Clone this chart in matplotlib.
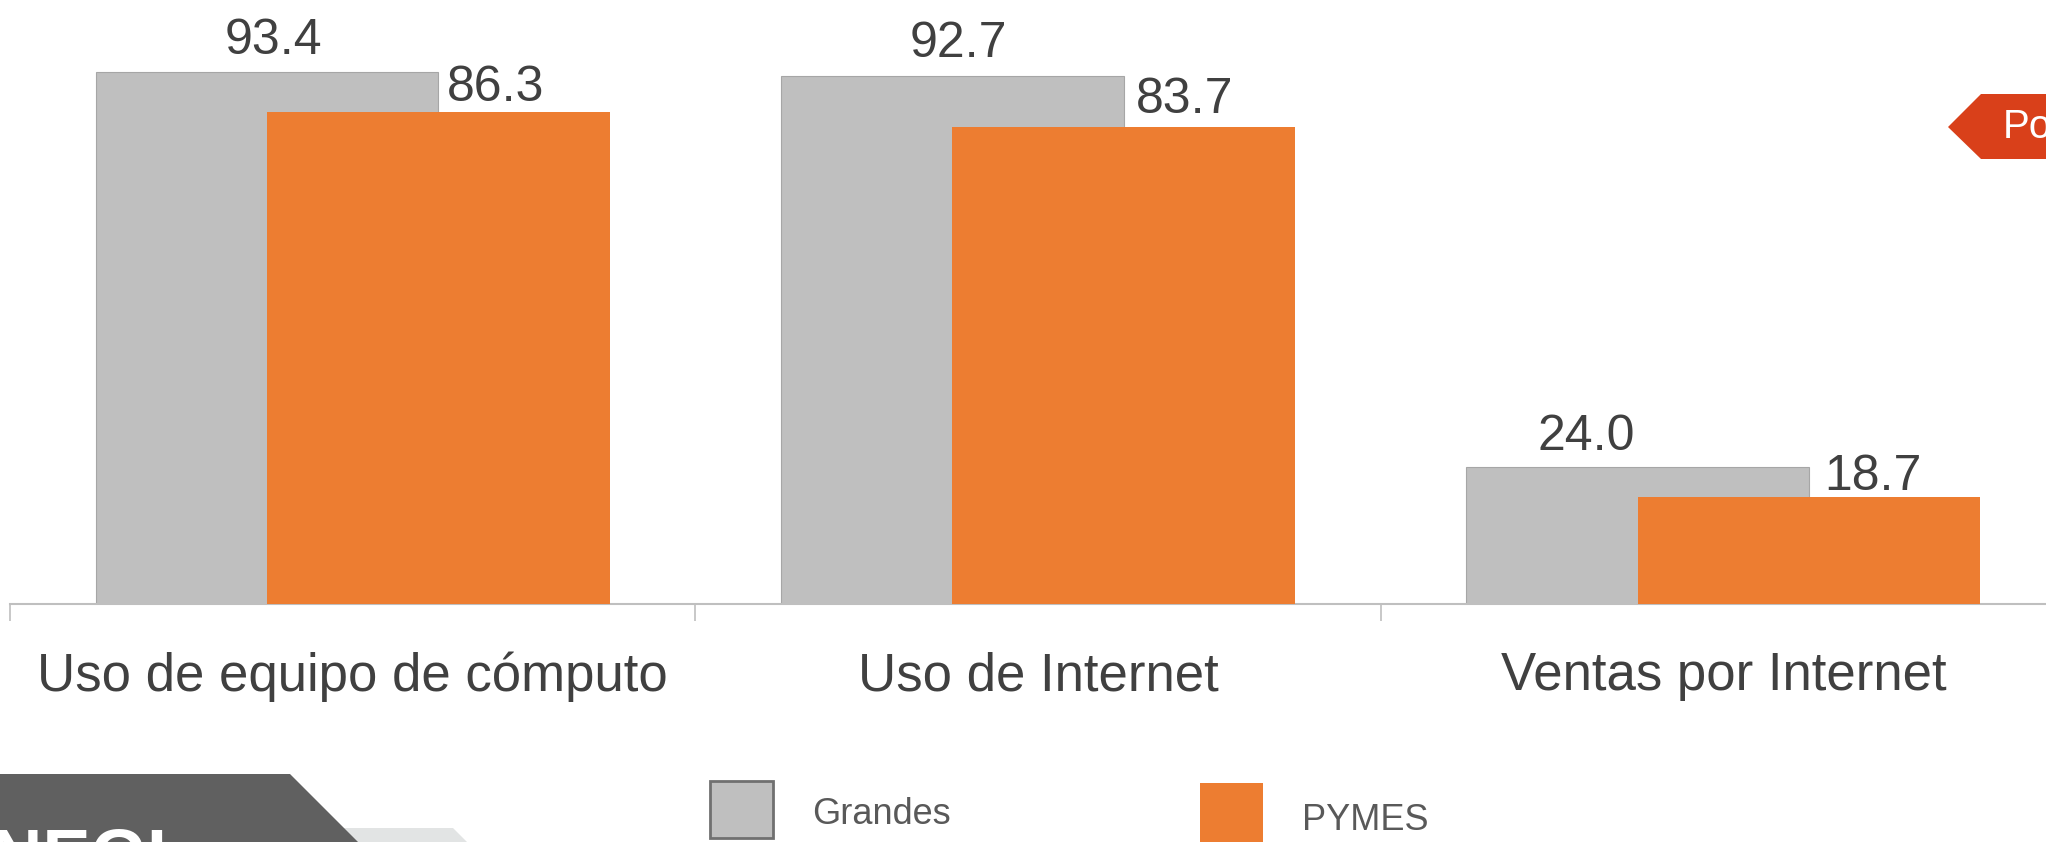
import matplotlib
matplotlib.use("Agg")
import matplotlib.pyplot as plt
from matplotlib.patches import Polygon

categorias = ["Uso de equipo de cómputo", "Uso de Internet", "Ventas por Internet"]
grandes = [93.4, 92.7, 24.0]
pymes = [86.3, 83.7, 18.7]
series = ["Grandes", "PYMES"]

gris = "#BFBFBF"
naranja = "#ED7D31"
texto = "#404040"

W, H = 2046, 842
plt.rcParams["font.family"] = ["Liberation Sans", "DejaVu Sans"]

fig = plt.figure(figsize=(W / 100, H / 100), dpi=100)
# axes run past the right edge of the picture (third category is cut)
ax = fig.add_axes([10 / W, 1 - 604 / H, (2066 - 10) / W, 604 / H])
ax.set_xlim(-0.5, 2.5)
ax.set_ylim(0, 106)

x = list(range(len(categorias)))
bg = ax.bar([i - 0.125 for i in x], grandes, width=0.5, color=gris,
            edgecolor="#A6A6A6", linewidth=0.8, zorder=2)
bp = ax.bar([i + 0.125 for i in x], pymes, width=0.5, color=naranja,
            edgecolor="none", zorder=3)

# value labels (offsets in pixels: dx, gap above bar to baseline)
off_g = [(6, 18), (6, 19), (-51, 17)]
off_p = [(57, 11), (61, 14), (64, 7)]
for bars, vals, offs in ((bg, grandes, off_g), (bp, pymes, off_p)):
    for b, v, (dx, dy) in zip(bars, vals, offs):
        ax.annotate(f"{v:.1f}", (b.get_x() + b.get_width() / 2, v),
                    xytext=(dx * 0.72, dy * 0.72), textcoords="offset points",
                    ha="center", va="baseline", fontsize=36, color=texto,
                    zorder=5, annotation_clip=False)

for s in ["top", "left", "right"]:
    ax.spines[s].set_visible(False)
ax.spines["bottom"].set_color("#BFBFBF")
ax.spines["bottom"].set_linewidth(1.5)
ax.set_yticks([])
ax.set_xticks([-0.5, 0.5, 1.5, 2.5])
ax.set_xticklabels([])
ax.tick_params(axis="x", which="major", length=12, width=1.2, color="#BFBFBF")
ax.set_xticks(x, minor=True)
ax.set_xticklabels(categorias, minor=True, fontsize=38, color=texto)
ax.tick_params(axis="x", which="minor", length=0, pad=34)

# legend
def px_rect(x0, y0, x1, y1, **kw):
    pts = [(x0, y0), (x1, y0), (x1, y1), (x0, y1)]
    fig.patches.append(Polygon([(a / W, 1 - b / H) for a, b in pts],
                               closed=True, transform=fig.transFigure, **kw))

px_rect(710, 781, 773, 838, facecolor=gris, edgecolor="#707070", linewidth=2)
px_rect(1200, 783, 1263, 850, facecolor=naranja, edgecolor="none")
fig.text(812 / W, 1 - 815 / H, series[0], fontsize=26, color="#595959",
         ha="left", va="center")
fig.text(1302 / W, 1 - 820 / H, series[1], fontsize=26, color="#595959",
         ha="left", va="center")

# red tag, top right
tag = [(1948, 127), (1981, 94), (2050, 94), (2050, 159), (1981, 159)]
fig.patches.append(Polygon([(a / W, 1 - b / H) for a, b in tag], closed=True,
                           transform=fig.transFigure, facecolor="#D9401A",
                           edgecolor="none"))
fig.text(2003 / W, 1 - 127 / H, "Po", fontsize=29, color="white",
         ha="left", va="center")

# logo, bottom left (only the top of the lettering shows)
light = [(300, 828), (453, 828), (470, 845), (300, 845)]
fig.patches.append(Polygon([(a / W, 1 - b / H) for a, b in light], closed=True,
                           transform=fig.transFigure, facecolor="#E2E4E4",
                           edgecolor="none"))
dark = [(0, 774), (290, 774), (361, 845), (0, 845)]
fig.patches.append(Polygon([(a / W, 1 - b / H) for a, b in dark], closed=True,
                           transform=fig.transFigure, facecolor="#606060",
                           edgecolor="none"))
fig.text(-30 / W, 1 - 880 / H, "INEGI", fontsize=52, fontweight="bold",
         color="white", ha="left", va="baseline")

fig.savefig("out.png", dpi=100)
